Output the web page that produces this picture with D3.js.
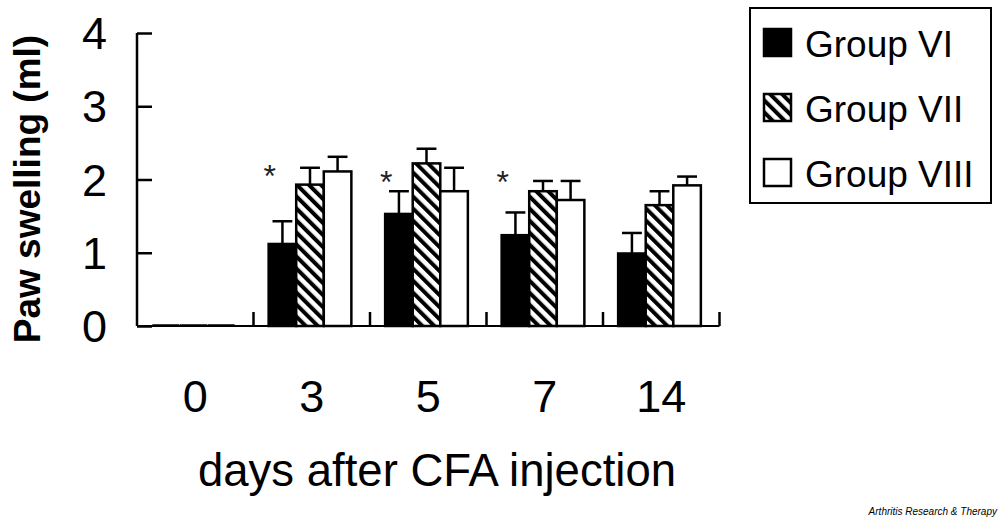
<!DOCTYPE html>
<html>
<head>
<meta charset="utf-8">
<script src="https://cdn.jsdelivr.net/npm/d3@7"></script>
<style>
html,body{margin:0;padding:0;background:#fff;}
svg{display:block;font-family:"Liberation Sans",Arial,sans-serif;}
</style>
</head>
<body>
<svg id="chart" width="1000" height="518"></svg>
<script>
const days = ["0", "3", "5", "7", "14"];
const groups = ["Group VI", "Group VII", "Group VIII"];
const groupVI = [0, 1.12, 1.53, 1.24, 0.99];
const groupVIErr = [0, 0.31, 0.31, 0.31, 0.28];
const groupVII = [0, 1.93, 2.22, 1.84, 1.65];
const groupVIIErr = [0, 0.23, 0.20, 0.14, 0.19];
const groupVIII = [0, 2.11, 1.84, 1.72, 1.92];
const groupVIIIErr = [0, 0.20, 0.32, 0.26, 0.12];
const sigMark = ["", "*", "*", "*", ""];
const sigLevel = [null, 2.14, 2.06, 2.06, null];
const yTicks = [0, 1, 2, 3, 4];
const yTitle = "Paw swelling (ml)";
const xTitle = "days after CFA injection";
const credit = "Arthritis Research & Therapy";

const values = [groupVI, groupVII, groupVIII];
const errors = [groupVIErr, groupVIIErr, groupVIIIErr];
const fills = ["#000", "url(#hatch)", "#fff"];

const svg = d3.select("#chart");
const defs = svg.append("defs");
const pat = defs.append("pattern").attr("id", "hatch")
  .attr("patternUnits", "userSpaceOnUse").attr("width", 8.5).attr("height", 8.5)
  .attr("patternTransform", "rotate(-45)");
pat.append("rect").attr("width", 8.5).attr("height", 8.5).attr("fill", "#fff");
pat.append("rect").attr("x", 0).attr("width", 4).attr("height", 8.5).attr("fill", "#000");

const pLeft = 137, pRight = 719.5, pTop = 33, pBottom = 326;
const y = d3.scaleLinear().domain([0, 4]).range([pBottom, pTop]);
const x0 = d3.scaleBand().domain(days).range([pLeft, pRight]).padding(0);
const bw = x0.bandwidth();
const x1 = d3.scaleBand().domain(groups).range([bw * 0.13, bw * 0.84]).padding(0);

const stroke = 2.5;

// bars
days.forEach((d, i) => {
  const g = svg.append("g").attr("transform", `translate(${x0(d)},0)`);
  groups.forEach((grp, k) => {
    const v = values[k][i], e = errors[k][i];
    const bx = x1(grp), w = x1.bandwidth();
    if (e > 0) {
      g.append("line").attr("x1", bx + w / 2).attr("x2", bx + w / 2)
        .attr("y1", y(v)).attr("y2", y(v + e))
        .attr("stroke", "#000").attr("stroke-width", stroke);
      g.append("line").attr("x1", bx + w / 2 - w * 0.36).attr("x2", bx + w / 2 + w * 0.36)
        .attr("y1", y(v + e)).attr("y2", y(v + e))
        .attr("stroke", "#000").attr("stroke-width", stroke);
    }
    g.append("rect").attr("x", bx + (v === 0 ? 1.5 : 0)).attr("width", w - (v === 0 ? 3 : 0))
      .attr("y", y(v) - (v === 0 ? 0.5 : 0)).attr("height", Math.max(y(0) - y(v), 0.01))
      .attr("fill", fills[k]).attr("stroke", "#000").attr("stroke-width", stroke);
  });
  if (sigMark[i]) {
    g.append("text").attr("x", x1(groups[0]) + 1)
      .attr("y", y(sigLevel[i]) + 18).attr("text-anchor", "middle")
      .attr("font-size", 32).attr("fill", "#222").text(sigMark[i]);
  }
});

// y axis
const yAxis = d3.axisRight(y).tickValues(yTicks).tickSize(15).tickFormat("");
const ya = svg.append("g").attr("transform", `translate(${pLeft},0)`).call(yAxis);
ya.select(".domain").attr("d", `M0,${pTop}V${pBottom}`).attr("stroke-width", stroke);
ya.selectAll(".tick line").attr("stroke-width", stroke);
svg.append("g").selectAll("text").data(yTicks).join("text")
  .attr("x", 107).attr("y", d => y(d) + 16).attr("text-anchor", "end")
  .attr("font-size", 45).text(d => d);

// x axis
svg.append("line").attr("x1", pLeft).attr("x2", pRight).attr("y1", pBottom).attr("y2", pBottom)
  .attr("stroke", "#000").attr("stroke-width", 2);
svg.append("g").selectAll("line").data(days.slice(1).concat(["end"])).join("line")
  .attr("x1", d => d === "end" ? pRight : x0(d)).attr("x2", d => d === "end" ? pRight : x0(d))
  .attr("y1", pBottom).attr("y2", pBottom - 14)
  .attr("stroke", "#000").attr("stroke-width", stroke);
svg.append("g").selectAll("text").data(days).join("text")
  .attr("x", d => x0(d) + bw / 2).attr("y", 412).attr("text-anchor", "middle")
  .attr("font-size", 45).text(d => d);

// titles
svg.append("text").attr("transform", "translate(40,189) rotate(-90)")
  .attr("text-anchor", "middle").attr("font-size", 37).attr("font-weight", "bold").text(yTitle);
svg.append("text").attr("x", 437).attr("y", 486).attr("text-anchor", "middle")
  .attr("font-size", 45.5).text(xTitle);

// legend
svg.append("rect").attr("x", 750).attr("y", 8).attr("width", 241).attr("height", 195)
  .attr("fill", "#fff").attr("stroke", "#000").attr("stroke-width", 2);
groups.forEach((grp, k) => {
  const ty = 29 + k * 65;
  svg.append("rect").attr("x", 764).attr("y", ty).attr("width", 27).attr("height", 27)
    .attr("fill", fills[k]).attr("stroke", "#000").attr("stroke-width", stroke);
  svg.append("text").attr("x", 805).attr("y", ty + 28).attr("font-size", 37).text(grp);
});

svg.append("text").attr("x", 997).attr("y", 515).attr("text-anchor", "end")
  .attr("font-size", 10).attr("font-style", "italic").text(credit);
</script>
</body>
</html>
